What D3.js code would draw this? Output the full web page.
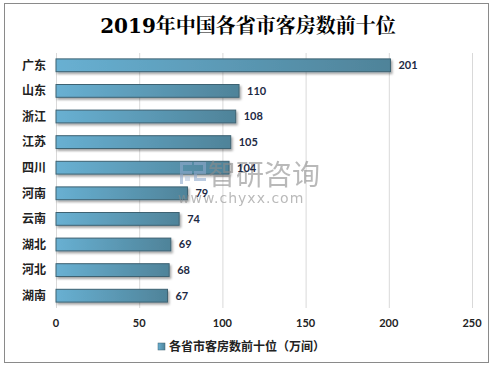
<!DOCTYPE html>
<html><head><meta charset="utf-8">
<script src="https://cdn.jsdelivr.net/npm/d3@7"></script>
<style>body{margin:0;background:#fff}svg{display:block}</style>
</head><body>
<script>
const categories = ["广东","山东","浙江","江苏","四川","河南","云南","湖北","河北","湖南"];
const values = [201,110,108,105,104,79,74,69,68,67];
const ticks = [0,50,100,150,200,250];
const title = "2019年中国各省市客房数前十位";
const seriesName = "各省市客房数前十位（万间）";

const W=495,H=369;
const svg=d3.select("body").append("svg").attr("width",W).attr("height",H);
const defs=svg.append("defs");
const g=defs.append("linearGradient").attr("id","bg").attr("x1","0").attr("x2","1").attr("y1","0").attr("y2","0");
g.append("stop").attr("offset","0").attr("stop-color","#68b0d2");
g.append("stop").attr("offset","1").attr("stop-color","#4f8399");
const f=defs.append("filter").attr("id","sh").attr("x","-5%").attr("y","-50%").attr("width","120%").attr("height","250%");
f.append("feDropShadow").attr("dx",1.5).attr("dy",2).attr("stdDeviation",1.2).attr("flood-color","#000").attr("flood-opacity",0.35);

svg.append("rect").attr("x",4.5).attr("y",3.5).attr("width",484).attr("height",359).attr("fill","#fff").attr("stroke","#8a8a8a").attr("stroke-width",1);

svg.append("text").attr("x",248).attr("y",33).attr("text-anchor","middle")
 .attr("font-family","'DejaVu Serif','Noto Serif CJK SC','Noto Sans CJK SC',serif").attr("font-weight","bold").attr("font-size",20).attr("fill","#000").text(title);

const x=d3.scaleLinear().domain([0,250]).range([56,472]);
const y=d3.scaleBand().domain(categories).range([52.5,308.5]).paddingInner(0.5).paddingOuter(0.25);

svg.append("g").selectAll("line").data(ticks).join("line")
 .attr("x1",d=>x(d)+0.5).attr("x2",d=>x(d)+0.5).attr("y1",53).attr("y2",308).attr("stroke","#d9d9d9");

svg.append("g").selectAll("rect").data(values).join("rect")
 .attr("x",x(0)).attr("y",(d,i)=>y(categories[i])).attr("width",d=>x(d)-x(0)).attr("height",y.bandwidth())
 .attr("fill","url(#bg)").attr("stroke","#3d6272").attr("stroke-width",1).attr("filter","url(#sh)");

const font="'Noto Sans CJK SC','DejaVu Sans',sans-serif";

// watermark (behind labels)
const wm=svg.append("g").attr("opacity",0.6);
// logo blocks
wm.append("path").attr("d","M180 162h12v3h-9v6h9v3h-9v10h-3z M194 162h12v12h-9v4h9v3h-12v-10h9v-6h-9z").attr("fill","#8fa9cc");
wm.append("rect").attr("x",185).attr("y",176).attr("width",5).attr("height",5).attr("fill","#b8c8de");
wm.append("text").attr("x",208).attr("y",185).attr("font-family",font).attr("font-size",28).attr("fill","#8c8c8c").text("智研咨询");
wm.append("text").attr("x",178).attr("y",203).attr("font-family","'DejaVu Sans',sans-serif").attr("font-size",14).attr("letter-spacing",1).attr("fill","#8c8c8c").text("www.chyxx.com");

svg.append("g").selectAll("text").data(values).join("text")
 .attr("x",d=>x(d)+8).attr("y",(d,i)=>y(categories[i])+y.bandwidth()/2).attr("dy","0.35em")
 .attr("font-family","Lato,'Noto Sans',sans-serif").attr("font-weight","bold").attr("font-size",11).attr("fill","#1d2a44").text(d=>d);

svg.append("g").selectAll("text").data(categories).join("text")
 .attr("x",46).attr("y",d=>y(d)+y.bandwidth()/2).attr("dy","0.35em").attr("text-anchor","end")
 .attr("font-family",font).attr("font-weight","bold").attr("font-size",12).attr("fill","#222").text(d=>d);

svg.append("g").selectAll("text").data(ticks).join("text")
 .attr("x",d=>x(d)).attr("y",327).attr("text-anchor","middle")
 .attr("font-family","Lato,'Noto Sans',sans-serif").attr("font-weight","bold").attr("font-size",11).attr("fill","#222").text(d=>d);

// legend
svg.append("rect").attr("x",158).attr("y",343).attr("width",7).attr("height",7).attr("fill","url(#bg)").attr("stroke","#3d6272").attr("stroke-width",0.5);
svg.append("text").attr("x",169).attr("y",347).attr("dy","0.35em").attr("font-family",font).attr("font-weight","bold").attr("font-size",12).attr("fill","#222").text(seriesName);
</script>
</body></html>
